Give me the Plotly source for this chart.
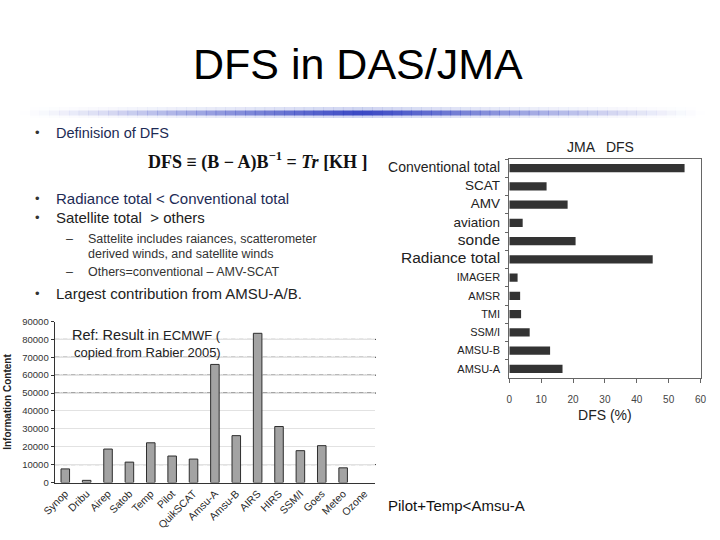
import plotly.graph_objects as go

# ---------------- data ----------------
ecmwf_obs = ["Synop", "Dribu", "Airep", "Satob", "Temp", "Pilot", "QuikSCAT",
             "Amsu-A", "Amsu-B", "AIRS", "HIRS", "SSM/I", "Goes", "Meteo", "Ozone"]
ecmwf_info = [7600, 1200, 18700, 11400, 22200, 14800, 13100,
              66000, 26200, 83400, 31300, 17800, 20600, 8200, 0]
ecmwf_yticks = [0, 10000, 20000, 30000, 40000, 50000, 60000, 70000, 80000, 90000]
ecmwf_dark_grid = [10000, 50000, 60000, 70000, 80000]

jma_obs = ["Conventional total", "SCAT", "AMV", "aviation", "sonde", "Radiance total",
           "IMAGER", "AMSR", "TMI", "SSM/I", "AMSU-B", "AMSU-A"]
jma_dfs = [55.0, 11.7, 18.3, 4.2, 20.8, 45.0, 2.6, 3.4, 3.7, 6.4, 12.8, 16.7]
jma_label_size = [14, 13.5, 13.5, 13.5, 15.5, 15.5, 11, 11, 11, 11, 11, 11]
jma_xticks = [0, 10, 20, 30, 40, 50, 60]

FONT = "Arial, Liberation Sans, sans-serif"
W, H = 720, 540

def px(x):
    return x / W

def py(y):
    return 1 - y / H

fig = go.Figure()

# ECMWF chart
fig.add_trace(go.Bar(
    x=ecmwf_obs, y=ecmwf_info, width=0.4,
    marker=dict(color="#a3a3a3",
                line=dict(color="#2e2e2e", width=[1 if v > 0 else 0 for v in ecmwf_info])),
    xaxis="x", yaxis="y", showlegend=False))

# JMA chart
fig.add_trace(go.Bar(
    x=jma_dfs, y=jma_obs, orientation="h", width=0.45,
    marker=dict(color="#333333", line=dict(width=0)),
    xaxis="x2", yaxis="y2", showlegend=False))

jma_ticktext = [f"<span style='font-size:{s}px'>{n}</span>" for n, s in zip(jma_obs, jma_label_size)]

fig.update_layout(
    width=W, height=H,
    margin=dict(l=0, r=0, t=0, b=0),
    paper_bgcolor="white", plot_bgcolor="rgba(0,0,0,0)",
    font=dict(family=FONT, color="#222222"),
    xaxis=dict(domain=[px(54.6), px(375.2)], anchor="y", automargin=False,
               tickangle=-45, tickfont=dict(size=10.5, color="#2a2a2a"),
               showline=True, linecolor="#333333", linewidth=1,
               ticks="", showgrid=False),
    yaxis=dict(domain=[py(482.5), py(321.5)], anchor="x", range=[0, 90000], automargin=False,
               tickvals=ecmwf_yticks, tickformat="d",
               tickfont=dict(size=9.5, color="#333333"),
               showline=True, linecolor="#333333", linewidth=1,
               ticks="outside", ticklen=3, tickcolor="#333333",
               showgrid=True, gridcolor="#e2e2e2", gridwidth=1,
               zeroline=False,
               title=dict(text="<b>Information Content</b>", font=dict(size=10, color="#222222"),
                          standoff=8)),
    xaxis2=dict(domain=[px(509.3), px(700.5)], anchor="y2", range=[0, 60], automargin=False,
                tickvals=jma_xticks, tickfont=dict(size=10, color="#444444"),
                showline=True, linecolor="#666666", linewidth=1, mirror=True,
                ticks="outside", ticklen=4, tickcolor="#666666",
                ticklabelstandoff=8,
                showgrid=False, zeroline=False,
                title=dict(text="DFS (%)", font=dict(size=14, color="#222222"), standoff=6)),
    yaxis2=dict(domain=[py(378), py(159)], anchor="x2", automargin=False,
                categoryorder="array", categoryarray=jma_obs, autorange="reversed",
                tickvals=jma_obs, ticktext=jma_ticktext,
                tickfont=dict(size=11, color="#222222"),
                showline=True, linecolor="#666666", linewidth=1, mirror=True,
                ticks="outside", ticklen=3, tickcolor="#666666", tickson="boundaries",
                ticklabelstandoff=6,
                showgrid=False),
)

shapes = []
# darker dash-dot gridlines in the ECMWF chart
for g in ecmwf_dark_grid:
    shapes.append(dict(type="line", xref="paper", yref="y", x0=px(54.6), x1=px(376),
                       y0=g, y1=g, line=dict(color="#333333", width=1, dash="5px,1px,1px,1px"),
                       layer="below"))

# gradient rule under the title
n = 70
x_start, x_end = 20, 705
seg = (x_end - x_start) / n
for i in range(n):
    t = (i + 0.5) / n
    a = max(0.0, 1 - abs(t - 0.5) * 2) ** 1.3
    shapes.append(dict(type="rect", xref="paper", yref="paper",
                       x0=px(x_start + i * seg), x1=px(x_start + (i + 1) * seg + 0.5),
                       y0=py(118), y1=py(107),
                       fillcolor=f"rgba(120,135,215,{0.35 * a:.3f})", line=dict(width=0)))
    shapes.append(dict(type="rect", xref="paper", yref="paper",
                       x0=px(x_start + i * seg), x1=px(x_start + (i + 1) * seg + 0.5),
                       y0=py(115.5), y1=py(110.5),
                       fillcolor=f"rgba(40,55,190,{0.9 * a:.3f})", line=dict(width=0)))
fig.update_layout(shapes=shapes)

ann = []

def text(x, y, s, size, color="#222222", anchor="left", family=FONT):
    ann.append(dict(x=px(x), y=py(y), xref="paper", yref="paper", text=s, showarrow=False,
                    xanchor=anchor, yanchor="middle",
                    font=dict(size=size, color=color, family=family)))

# slide title
text(358, 64, "DFS in DAS/JMA", 43, "#000000", "center")

navy = "#1d2b55"
for yb in [133, 198, 218, 293]:
    text(33, yb, "•", 13, "#333333")
text(54, 133, "Definision of DFS", 14.5, navy)
text(258, 161, "<b>DFS ≡ (B − A)B<sup>−1</sup> = <i>Tr</i> [KH ]</b>", 18, "#111111",
     "center", "Liberation Serif, Times New Roman, serif")
text(54, 198, "Radiance total &lt; Conventional total", 15, navy)
text(54, 218, "Satellite total  &gt; others", 15, "#222222")
text(64, 239, "–", 12.5, "#333333")
text(86, 239, "Sattelite includes raiances, scatterometer", 12.5, "#333333")
text(86, 254, "derived winds, and satellite winds", 12.5, "#333333")
text(64, 272, "–", 12.5, "#333333")
text(86, 272, "Others=conventional – AMV-SCAT", 12.5, "#333333")
text(54, 293, "Largest contribution from AMSU-A/B.", 15, "#222222")

# ECMWF chart annotation
text(70, 335, "Ref: Result in <span style='font-size:13px'>ECMWF (</span>", 14.5, "#222222")
text(72, 352, "copied from Rabier 2005)", 13, "#222222")

# JMA chart title
text(600, 147, "JMA   DFS", 14, "#222222", "center")

# bottom note
text(386, 505, "Pilot+Temp&lt;Amsu-A", 15, "#111111")

fig.update_layout(annotations=ann)

fig.write_html("out.html", config={"displayModeBar": False},
               post_script="document.body.style.margin='0';document.documentElement.style.overflow='hidden';")
